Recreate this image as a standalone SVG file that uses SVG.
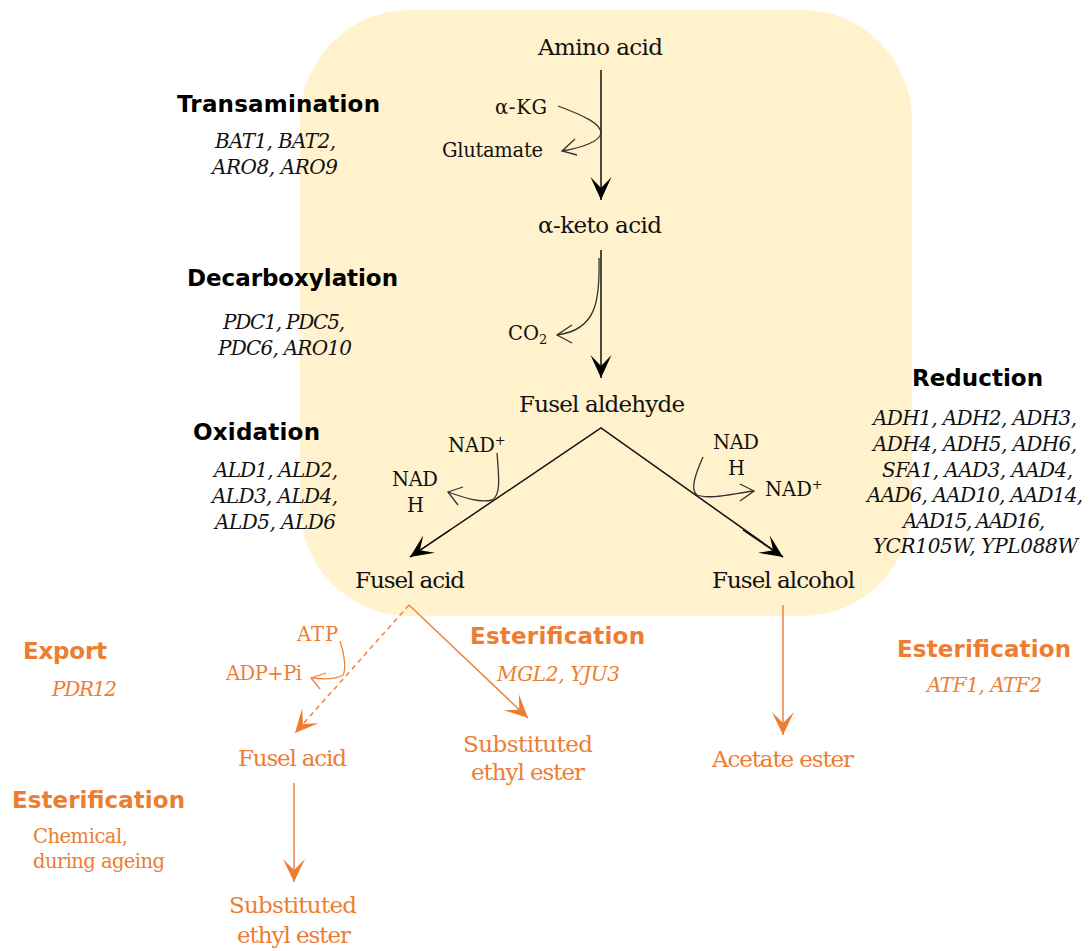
<svg xmlns="http://www.w3.org/2000/svg" width="1089" height="951" viewBox="0 0 1089 951">
<style>
.bg{fill:#FFF2CC}
.m{font-family:"DejaVu Serif","Liberation Serif",serif;font-size:23px;fill:#111}
.s{font-family:"DejaVu Serif","Liberation Serif",serif;font-size:19.5px;fill:#111}
.g{font-family:"DejaVu Serif","Liberation Serif",serif;font-size:20px;font-style:italic;fill:#111}
.h{font-family:"DejaVu Sans","Liberation Sans",sans-serif;font-size:23px;font-weight:bold;fill:#000}
.om{font-family:"DejaVu Serif","Liberation Serif",serif;font-size:23px;fill:#ED7D31}
.os{font-family:"DejaVu Serif","Liberation Serif",serif;font-size:19.5px;fill:#ED7D31}
.og{font-family:"DejaVu Serif","Liberation Serif",serif;font-size:20px;font-style:italic;fill:#ED7D31}
.oh{font-family:"DejaVu Sans","Liberation Sans",sans-serif;font-size:23px;font-weight:bold;fill:#ED7D31}
.ln{stroke:#111;stroke-width:1.5;fill:none}
.cv{stroke:#333;stroke-width:1.3;fill:none}
.oln{stroke:#EE8440;stroke-width:1.5;fill:none}
.ocv{stroke:#EE8440;stroke-width:1.3;fill:none}
</style>
<defs>
<marker id="ah" markerUnits="userSpaceOnUse" orient="auto" viewBox="-25 -12 26 24" refX="0" refY="0" markerWidth="26" markerHeight="24">
<path d="M0,0 L-23,-10.5 L-12,0 L-23,10.5 Z" fill="#000"/>
</marker>
<marker id="oah" markerUnits="userSpaceOnUse" orient="auto" viewBox="-25 -12 26 24" refX="0" refY="0" markerWidth="26" markerHeight="24">
<path d="M0,0 L-23,-11 L-12,0 L-23,11 Z" fill="#ED7D31"/>
</marker>
</defs>
<rect class="bg" x="300" y="10" width="612" height="606" rx="110" ry="110"/>

<g id="connectors">
<line class="ln" x1="601" y1="70" x2="601" y2="200" marker-end="url(#ah)"/>
<line class="ln" x1="601" y1="250" x2="601" y2="378" marker-end="url(#ah)"/>
<polyline class="ln" points="410,557 601,428 783,557" fill="none"/>
<line class="ln" x1="450" y1="530" x2="410" y2="557" marker-end="url(#ah)"/>
<line class="ln" x1="743" y1="530" x2="783" y2="557" marker-end="url(#ah)"/>
<path class="cv" d="M558,106 C585,116 601,124 601,133 C600,142 580,148 562,151"/>
<path class="cv" d="M575,139 L562,151 L577,155"/>
<path class="cv" d="M599,258 C600,300 597,330 557,335"/>
<path class="cv" d="M572,325 L557,335 L572,343"/>
<path class="cv" d="M497,453 C499,478 501,495 492,500 C480,503 465,498 448,492"/>
<path class="cv" d="M463,487 L448,492 L458,505"/>
<path class="cv" d="M703,457 C695,475 690,490 697,495 C710,500 735,493 754,491"/>
<path class="cv" d="M740,484 L754,491 L740,501"/>
<line class="oln" x1="409" y1="605" x2="528" y2="718" marker-end="url(#oah)"/>
<line class="oln" x1="409" y1="605" x2="295" y2="733" stroke-dasharray="5,4" marker-end="url(#oah)"/>
<line class="oln" x1="294" y1="783" x2="294" y2="882" marker-end="url(#oah)"/>
<line class="oln" x1="783" y1="605" x2="783" y2="735" marker-end="url(#oah)"/>
<path class="ocv" d="M340,641 C345,655 346,670 343,675 C335,680 320,679 311,678"/>
<path class="ocv" d="M326,673 L311,678 L320,689"/>
</g>

<g id="amino-acid"><text class="m" x="538" y="55" textLength="125">Amino acid</text></g>
<g id="akg"><text class="s" x="495" y="114" textLength="52">α-KG</text></g>
<g id="glutamate"><text class="s" x="442" y="157" textLength="101">Glutamate</text></g>
<g id="keto-acid"><text class="m" x="538" y="233" textLength="124">α-keto acid</text></g>
<g id="co2"><text class="s" x="508" y="340">CO<tspan font-size="13" dy="4">2</tspan></text></g>
<g id="fusel-aldehyde"><text class="m" x="519" y="412" textLength="166">Fusel aldehyde</text></g>
<g id="nad-left"><text class="s" x="448" y="452">NAD<tspan font-size="13" dy="-7">+</tspan></text>
<text class="s" x="392" y="486" textLength="46">NAD</text><text class="s" x="407" y="512">H</text></g>
<g id="nad-right"><text class="s" x="713" y="449" textLength="46">NAD</text><text class="s" x="728" y="475">H</text>
<text class="s" x="765" y="496">NAD<tspan font-size="13" dy="-7">+</tspan></text></g>
<g id="fusel-acid"><text class="m" x="355" y="588" textLength="110">Fusel acid</text></g>
<g id="fusel-alcohol"><text class="m" x="712" y="588" textLength="143">Fusel alcohol</text></g>

<g id="transamination"><text class="h" x="177" y="112" textLength="203">Transamination</text>
<text class="g" x="215" y="148" textLength="121">BAT1, BAT2,</text>
<text class="g" x="212" y="174" textLength="126">ARO8, ARO9</text></g>
<g id="decarboxylation"><text class="h" x="187" y="286" textLength="211">Decarboxylation</text>
<text class="g" x="223" y="329" textLength="122">PDC1, PDC5,</text>
<text class="g" x="218" y="355" textLength="134">PDC6, ARO10</text></g>
<g id="oxidation"><text class="h" x="193" y="440" textLength="127">Oxidation</text>
<text class="g" x="214" y="477" textLength="124">ALD1, ALD2,</text>
<text class="g" x="212" y="503" textLength="126">ALD3, ALD4,</text>
<text class="g" x="215" y="529" textLength="121">ALD5, ALD6</text></g>
<g id="reduction"><text class="h" x="912" y="386" textLength="131">Reduction</text>
<text class="g" x="873" y="425" textLength="204">ADH1, ADH2, ADH3,</text>
<text class="g" x="873" y="451" textLength="204">ADH4, ADH5, ADH6,</text>
<text class="g" x="882" y="477" textLength="191">SFA1, AAD3, AAD4,</text>
<text class="g" x="867" y="502" textLength="216">AAD6, AAD10, AAD14,</text>
<text class="g" x="903" y="528" textLength="142">AAD15, AAD16,</text>
<text class="g" x="873" y="553" textLength="205">YCR105W, YPL088W</text></g>

<g id="atp"><text class="os" x="297" y="641" textLength="41">ATP</text>
<text class="os" x="226" y="680" textLength="76">ADP+Pi</text></g>
<g id="export"><text class="oh" x="23" y="659" textLength="84">Export</text>
<text class="og" x="52" y="696" textLength="65">PDR12</text></g>
<g id="fusel-acid-out"><text class="om" x="238" y="766" textLength="109">Fusel acid</text></g>
<g id="esterification-chem"><text class="oh" x="12" y="808" textLength="173">Esterification</text>
<text class="os" x="33" y="843" textLength="95">Chemical,</text>
<text class="os" x="33" y="868" textLength="132">during ageing</text></g>
<g id="substituted-ester-2"><text class="om" x="229" y="913" textLength="128">Substituted</text>
<text class="om" x="237" y="943" textLength="114">ethyl ester</text></g>
<g id="esterification-mgl"><text class="oh" x="470" y="644" textLength="175">Esterification</text>
<text class="og" x="497" y="681" textLength="123">MGL2, YJU3</text></g>
<g id="substituted-ester-1"><text class="om" x="463" y="752" textLength="130">Substituted</text>
<text class="om" x="471" y="780" textLength="114">ethyl ester</text></g>
<g id="esterification-atf"><text class="oh" x="897" y="657" textLength="174">Esterification</text>
<text class="og" x="927" y="692" textLength="115">ATF1, ATF2</text></g>
<g id="acetate-ester"><text class="om" x="712" y="767" textLength="142">Acetate ester</text></g>
</svg>
